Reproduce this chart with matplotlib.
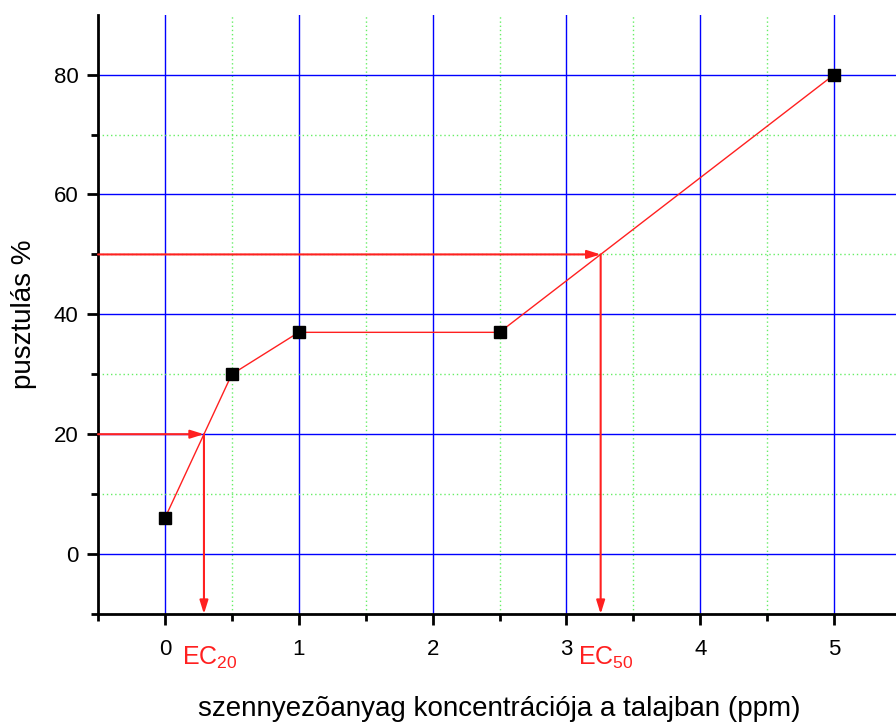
import numpy as np
import matplotlib
matplotlib.use("Agg")
import matplotlib.pyplot as plt
from matplotlib.ticker import MultipleLocator

plt.rcParams['font.family'] = ['Liberation Sans', 'DejaVu Sans']
plt.rcParams['mathtext.fontset'] = 'custom'
plt.rcParams['mathtext.rm'] = 'Liberation Sans'
plt.rcParams['mathtext.it'] = 'Liberation Sans'
plt.rcParams['mathtext.default'] = 'rm'

# measured mortality versus pollutant concentration
concentration = [0, 0.5, 1, 2.5, 5]
mortality = [6, 30, 37, 37, 80]

effect_levels = [20, 50]
effect_names = ["EC$_{20}$", "EC$_{50}$"]

xlabel = "szennyezõanyag koncentrációja a talajban (ppm)"
ylabel = "pusztulás %"

W, H = 896, 724
fig = plt.figure(figsize=(W / 100, H / 100), dpi=100)
ax = fig.add_axes([98 / W, (H - 614) / H, (901 - 98) / W, (614 - 15) / H])

ax.set_xlim(-0.5, 5.5)
ax.set_ylim(-10, 89.95)

ax.xaxis.set_major_locator(MultipleLocator(1))
ax.xaxis.set_minor_locator(MultipleLocator(0.5))
ax.yaxis.set_major_locator(MultipleLocator(20))
ax.yaxis.set_minor_locator(MultipleLocator(10))

ax.grid(which='major', color='#0000ff', linewidth=1.0, zorder=0)
ax.grid(which='minor', color='#66ee66', linewidth=1.0, linestyle=(0, (1, 2)), zorder=0)
ax.set_axisbelow(True)

for side in ('top', 'right'):
    ax.spines[side].set_visible(False)
for side in ('left', 'bottom'):
    ax.spines[side].set_linewidth(2)

ax.tick_params(which='major', length=8, width=2, labelsize=16)
ax.tick_params(axis='x', which='major', pad=10)
ax.tick_params(axis='y', which='major', pad=6)
ax.tick_params(which='minor', length=5, width=2)

# data curve
ax.plot(concentration, mortality, color='#ff2020', linewidth=1, zorder=3)
ax.plot(concentration, mortality, linestyle='none', marker='s', markersize=9,
        color='black', zorder=4)

# read-off arrows for EC values
x0, y0 = ax.get_xlim()[0], -10
for level, name in zip(effect_levels, effect_names):
    seg = slice(0, 2) if level < 30 else slice(3, 5)
    xe = np.interp(level, mortality[seg], concentration[seg])
    arrow = dict(arrowstyle='-|>,head_length=0.8,head_width=0.25', color='#ff2020',
                 linewidth=1.5, shrinkA=0, shrinkB=0)
    ax.annotate('', xy=(xe, level), xytext=(x0, level), arrowprops=arrow, zorder=5)
    ax.annotate('', xy=(xe, y0), xytext=(xe, level), arrowprops=arrow, zorder=5)
    ax.annotate(name, xy=(xe, y0), xycoords='data', xytext=(-16, -22),
                textcoords='offset points', color='#ff2020', fontsize=18,
                ha='left', va='top', annotation_clip=False)

ax.set_xlabel(xlabel, fontsize=20, labelpad=26)
ax.set_ylabel(ylabel, fontsize=20, labelpad=12)

fig.savefig("out.png", dpi=100)
